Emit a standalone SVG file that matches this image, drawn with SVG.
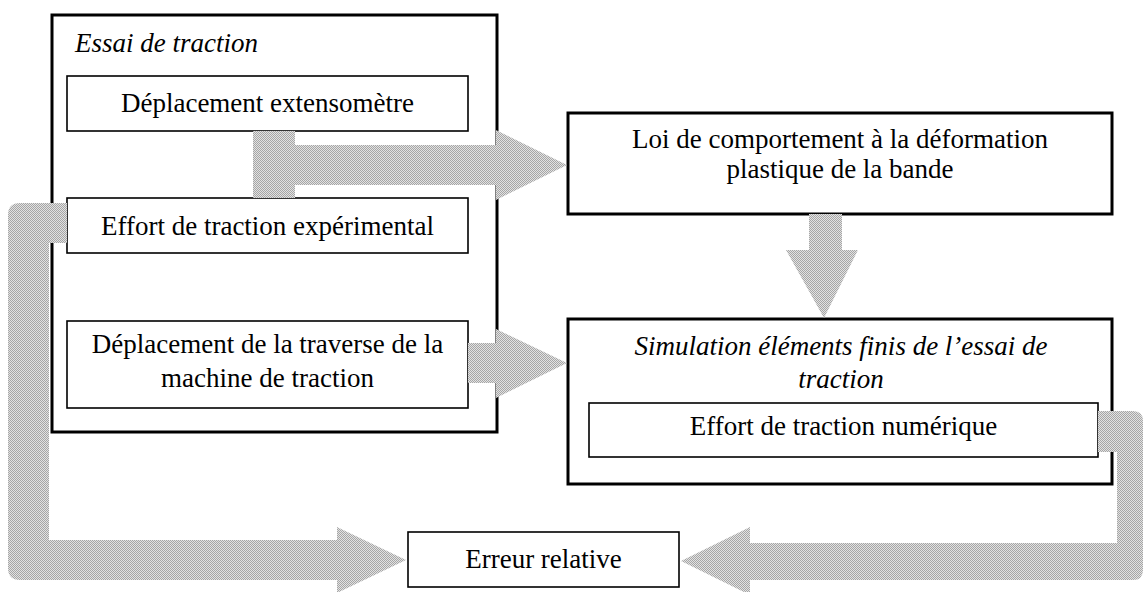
<svg xmlns="http://www.w3.org/2000/svg" width="1144" height="592" viewBox="0 0 1144 592">
<style>
.thick{fill:#fff;stroke:#000;stroke-width:3}
.thin{fill:#fff;stroke:#000;stroke-width:1.6}
.t{font-family:"Liberation Serif","Times New Roman",serif;font-size:27px;fill:#000}
.c{text-anchor:middle}
.i{font-style:italic}
.arrow{fill:url(#dither);stroke:none}
</style>
<defs>
<pattern id="dither" width="2" height="2" patternUnits="userSpaceOnUse">
<rect width="2" height="2" fill="#e2e2e2"/>
<rect width="1" height="1" fill="#a6a6a6"/>
<rect x="1" y="1" width="1" height="1" fill="#a6a6a6"/>
</pattern>
</defs>
<g id="essai">
<rect class="thick" x="52" y="15" width="445" height="417"/>
<text class="t i" x="75" y="52">Essai de traction</text>
</g>
<g id="extenso">
<rect class="thin" x="67" y="76" width="401" height="55"/>
<text class="t c" x="267.5" y="112">Déplacement extensomètre</text>
</g>
<g id="effort-exp">
<rect class="thin" x="67" y="198" width="401" height="55"/>
<text class="t c" x="267.5" y="235">Effort de traction expérimental</text>
</g>
<g id="traverse">
<rect class="thin" x="67" y="321" width="401" height="87"/>
<text class="t c" x="267.5" y="353">Déplacement de la traverse de la</text>
<text class="t c" x="267.5" y="387">machine de traction</text>
</g>
<g id="loi">
<rect class="thick" x="568" y="113" width="544" height="101"/>
<text class="t c" x="840" y="148">Loi de comportement à la déformation</text>
<text class="t c" x="840" y="178">plastique de la bande</text>
</g>
<g id="simulation">
<rect class="thick" x="568" y="319" width="544" height="165"/>
<text class="t c i" x="841" y="355">Simulation éléments finis de l’essai de</text>
<text class="t c i" x="841" y="388">traction</text>
</g>
<g id="effort-num">
<rect class="thin" x="589" y="403" width="509" height="54"/>
<text class="t c" x="843.5" y="435">Effort de traction numérique</text>
</g>
<g id="erreur">
<rect class="thin" x="408" y="532" width="271" height="55"/>
<text class="t c" x="543.5" y="568">Erreur relative</text>
</g>
<g id="connectors">
<path class="arrow" d="M253,131 H295 V145 H496 V130 L567,165 L496,200 V185 H295 V198 H253 Z"/>
<path class="arrow" d="M468,343 H496 V329 L567,363 L496,398 V383 H468 Z"/>
<path class="arrow" d="M809,214 H842 V250 H858 L824,318 L786,250 H809 Z"/>
<path class="arrow" d="M67,203 V243 H49 V540 H337 V527 L406,560 L337,593 V580 H20 Q8,580 8,568 V215 Q8,203 20,203 Z"/>
<path class="arrow" d="M1098,411 H1133 Q1143,411 1143,421 V570 Q1143,580 1133,580 H750 V595 L681,561 L750,527 V543 H1117 V452 H1098 Z"/>
</g>
</svg>
